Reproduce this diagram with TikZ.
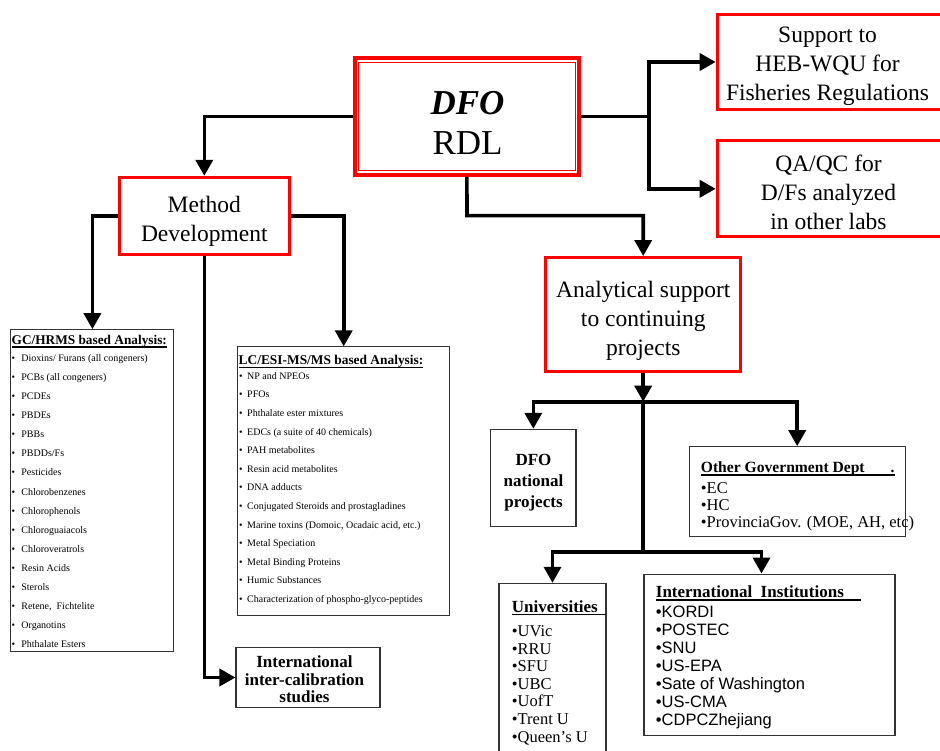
\documentclass[tikz,border=0pt]{standalone}
\usepackage{fontspec}
\setmainfont{Liberation Serif}
\newfontfamily\arialfont{Liberation Sans}
\usetikzlibrary{arrows.meta}
\newsavebox\ulbox
\newcommand\ulbar[1]{\sbox\ulbox{#1}\rlap{\rule[-3.4pt]{\wd\ulbox}{1.9pt}}\usebox\ulbox}
\tikzstyle{redbox}=[draw=red, line width=3pt, inner sep=0pt]
\tikzstyle{greybox}=[draw=black!80, line width=1.1pt, inner sep=0pt]
\tikzstyle{conn}=[line width=3.6pt, -{Triangle[length=16pt,width=17pt]}]
\tikzstyle{trunk}=[line width=3.6pt]
\tikzstyle{bigtxt}=[align=center, inner sep=0pt, font=\fontsize{23.5}{29}\selectfont]
\tikzstyle{boldtxt}=[align=center, inner sep=0pt, font=\bfseries\fontsize{17}{19}\selectfont]
\tikzstyle{listhead}=[anchor=base west, inner sep=0pt]
\tikzstyle{gcitem}=[anchor=base west, inner sep=0pt, font=\fontsize{10}{12}\selectfont,
  execute at begin node=\textbullet\hspace{6.2pt}]
\tikzstyle{lcitem}=[anchor=base west, inner sep=0pt, font=\fontsize{10}{12}\selectfont,
  execute at begin node=\textbullet\hspace{4.5pt}]
\tikzstyle{orgitem}=[anchor=base west, inner sep=0pt, font=\fontsize{16.5}{18}\selectfont,
  execute at begin node=\textbullet]

\begin{document}
\begin{tikzpicture}[x=1pt, y=-1pt]
\useasboundingbox (0,0) rectangle (940,751);
% Red boxes
    \node[redbox, line width=4pt, minimum width=224.3, minimum height=116.7] (rdl) at (466.9,116.4) {};
    \draw[red, line width=1pt] ([shift={(6,6)}]rdl.north west) rectangle ([shift={(-5.5,-6)}]rdl.south east);
    \node[redbox, minimum width=170, minimum height=77] (meth) at (204.3,215.8) {};
    \node[redbox, minimum width=195.3, minimum height=114.3] (ana) at (643.2,314.7) {};
    \node[redbox, minimum width=230, minimum height=94.4] (sup) at (832.2,62) {};
    \node[redbox, minimum width=230, minimum height=96] (qa) at (832.2,188.8) {};
% Grey boxes
    \node[greybox, minimum width=163, minimum height=322] (gc) at (92.4,490.7) {};
    \node[greybox, minimum width=212, minimum height=269] (lc) at (343.7,481.4) {};
    \node[greybox, minimum width=144, minimum height=60] (inter) at (308,677.5) {};
    \node[greybox, minimum width=85.3, minimum height=96.7] (dfon) at (533.3,477.7) {};
    \node[greybox, minimum width=215.7, minimum height=90] (ogd) at (797.2,491.7) {};
    \node[greybox, minimum width=107, minimum height=186.7] (uni) at (552.5,676.7) {};
    \node[greybox, minimum width=251, minimum height=161.7] (intl) at (769.5,654.9) {};
% Box texts
    \node[align=center, inner sep=0pt, font=\fontsize{35}{40}\selectfont] (rdltxt) at (467.5,122.5) {\textbf{\textit{DFO}}\\RDL};
    \node[bigtxt] (methtxt) at (204.3,221) {Method\\Development};
    \node[bigtxt] (anatxt) at (643.3,320.8) {Analytical support\\to continuing\\projects};
    \node[bigtxt] (suptxt) at (827.5,66.3) {Support to\\HEB-WQU for\\Fisheries Regulations};
    \node[bigtxt] (qatxt) at (828.5,192) {QA/QC for\\D/Fs analyzed\\in other labs};
    \node[boldtxt, font=\bfseries\fontsize{17}{21}\selectfont] (dfontxt) at (533.5,482.5) {DFO\\national\\projects};
    \node[boldtxt, font=\bfseries\fontsize{17}{17.5}\selectfont] (intertxt) at (304.5,679.3) {International\\inter-calibration\\studies};
% GC/HRMS list
    \node[listhead, font=\bfseries\fontsize{13.3}{15}\selectfont] (gchd) at (11.5,344.5) {\ulbar{GC/HRMS based Analysis:}};
    \node[gcitem] (gc1) at (11.5,361.5) {Dioxins/ Furans (all congeners)};
    \node[gcitem] (gc2) at (11.5,380.6) {PCBs (all congeners)};
    \node[gcitem] (gc3) at (11.5,399.6) {PCDEs};
    \node[gcitem] (gc4) at (11.5,418.7) {PBDEs};
    \node[gcitem] (gc5) at (11.5,437.8) {PBBs};
    \node[gcitem] (gc6) at (11.5,456.9) {PBDDs/Fs};
    \node[gcitem] (gc7) at (11.5,475.9) {Pesticides};
    \node[gcitem] (gc8) at (11.5,495.0) {Chlorobenzenes};
    \node[gcitem] (gc9) at (11.5,514.1) {Chlorophenols};
    \node[gcitem] (gc10) at (11.5,533.1) {Chloroguaiacols};
    \node[gcitem] (gc11) at (11.5,552.2) {Chloroveratrols};
    \node[gcitem] (gc12) at (11.5,571.3) {Resin Acids};
    \node[gcitem] (gc13) at (11.5,590.3) {Sterols};
    \node[gcitem] (gc14) at (11.5,609.4) {Retene,\ \ Fichtelite};
    \node[gcitem] (gc15) at (11.5,628.5) {Organotins};
    \node[gcitem] (gc16) at (11.5,647.6) {Phthalate Esters};
% LC/ESI-MS/MS list
    \node[listhead, font=\bfseries\fontsize{13.4}{15}\selectfont] (lchd) at (238.5,365) {\ulbar{LC/ESI-MS/MS based Analysis:}};
    \node[lcitem] (lc1) at (239,379.3) {NP and NPEOs};
    \node[lcitem] (lc2) at (239,397.9) {PFOs};
    \node[lcitem] (lc3) at (239,416.5) {Phthalate ester mixtures};
    \node[lcitem] (lc4) at (239,435.0) {EDCs (a suite of 40 chemicals)};
    \node[lcitem] (lc5) at (239,453.6) {PAH metabolites};
    \node[lcitem] (lc6) at (239,472.2) {Resin acid metabolites};
    \node[lcitem] (lc7) at (239,490.8) {DNA adducts};
    \node[lcitem] (lc8) at (239,509.4) {Conjugated Steroids and prostagladines};
    \node[lcitem] (lc9) at (239,528.0) {Marine toxins (Domoic, Ocadaic acid, etc.)};
    \node[lcitem] (lc10) at (239,546.5) {Metal Speciation};
    \node[lcitem] (lc11) at (239,565.1) {Metal Binding Proteins};
    \node[lcitem] (lc12) at (239,583.7) {Humic Substances};
    \node[lcitem] (lc13) at (239,602.3) {Characterization of phospho-glyco-peptides};
% Other Government Dept
    \node[listhead, font=\bfseries\fontsize{15.6}{18}\selectfont] (ogdhd) at (700.7,472.3) {\ulbar{Other Government Dept\hspace{26pt}.}};
    \node[orgitem] (ogd1) at (700.7,493.8) {EC};
    \node[orgitem] (ogd2) at (700.7,510.5) {HC};
    \node[orgitem] (ogd3) at (700.7,527.2) {ProvinciaGov. (MOE, AH, etc)};
% Universities
    \node[listhead, font=\bfseries\fontsize{17}{19}\selectfont] (unihd) at (511.7,612) {\ulbar{Universities\hspace{8pt}}};
    \node[orgitem] (uni1) at (511.7,636.5) {UVic};
    \node[orgitem] (uni2) at (511.7,654.1) {RRU};
    \node[orgitem] (uni3) at (511.7,671.7) {SFU};
    \node[orgitem] (uni4) at (511.7,689.3) {UBC};
    \node[orgitem] (uni5) at (511.7,706.9) {UofT};
    \node[orgitem] (uni6) at (511.7,724.5) {Trent U};
    \node[orgitem] (uni7) at (511.7,742.1) {Queen's U};
% International Institutions
    \node[listhead, font=\bfseries\fontsize{17}{19}\selectfont] (intlhd) at (655.7,597.5) {\ulbar{International\ \ Institutions\hspace{17pt}}};
    \node[orgitem, font=\arialfont\fontsize{16.5}{18}\selectfont] (intl1) at (655.7,617.7) {KORDI};
    \node[orgitem, font=\arialfont\fontsize{16.5}{18}\selectfont] (intl2) at (655.7,635.6) {POSTEC};
    \node[orgitem, font=\arialfont\fontsize{16.5}{18}\selectfont] (intl3) at (655.7,653.5) {SNU};
    \node[orgitem, font=\arialfont\fontsize{16.5}{18}\selectfont] (intl4) at (655.7,671.4) {US-EPA};
    \node[orgitem, font=\arialfont\fontsize{16.5}{18}\selectfont] (intl5) at (655.7,689.3) {Sate of Washington};
    \node[orgitem, font=\arialfont\fontsize{16.5}{18}\selectfont] (intl6) at (655.7,707.2) {US-CMA};
    \node[orgitem, font=\arialfont\fontsize{16.5}{18}\selectfont] (intl7) at (655.7,725.1) {CDPCZhejiang};
% Connectors
    \coordinate (fork) at (649,116.4);
    \coordinate (bend) at (467,215.7);
    \coordinate (hubA) at (643.2,401.7);
    \coordinate (hubB) at (643.2,551.7);
    \draw[conn] (rdl.west) -| (meth.north);
    \draw[conn] (meth.west) -| (gc.north);
    \draw[conn] (meth.east) -| (lc.north);
    \draw[conn] (meth.south) |- (inter.west);
    \draw[trunk] (rdl.east) -- (fork);
    \draw[conn] (fork) |- (sup.west);
    \draw[conn] (fork) |- (qa.west);
    \draw[conn] (rdl.south) -- (bend) -| (ana.north);
    \draw[conn] (ana.south) -- (hubA);
    \draw[conn] (hubA) -| (dfon.north);
    \draw[conn] (hubA) -| (ogd.north);
    \draw[trunk] (hubA) -- (hubB);
    \draw[conn] (hubB) -| (uni.north);
    \draw[conn] (hubB) -| ([xshift=-8pt]intl.north);
\end{tikzpicture}
\end{document}
